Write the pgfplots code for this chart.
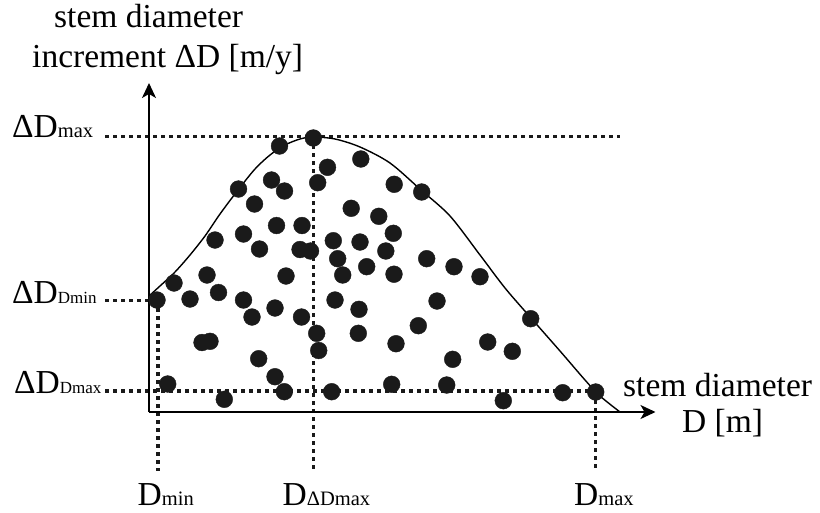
\documentclass[border=0pt]{standalone}
\usepackage{pgfplots}
\pgfplotsset{compat=1.18}
\usepackage{fontspec}
\setmainfont{Liberation Serif}
\usetikzlibrary{arrows.meta}
\definecolor{dotc}{HTML}{1A1A1A}
\newcommand{\bigf}{\fontsize{33.5bp}{40bp}\selectfont}
\newcommand{\subf}{\fontsize{20.5bp}{24bp}\selectfont}
\newcommand{\subbf}{\fontsize{17bp}{20bp}\selectfont}
\begin{document}
\begin{tikzpicture}
\begin{axis}[
  width=820bp, height=512bp, scale only axis,
  xmin=0, xmax=820, ymin=0, ymax=512, y dir=reverse,
  hide axis, clip=false,
]
% dotted guide lines
\addplot[dotc, line width=3.3bp, dash pattern=on 4bp off 4bp] coordinates {(105,136.5) (620,136.5)};
\addplot[dotc, line width=3.3bp, dash pattern=on 4bp off 4bp] coordinates {(105,300.5) (157,300.5)};
\addplot[dotc, line width=3.3bp, dash pattern=on 4bp off 4bp] coordinates {(105,391) (596,391)};
\addplot[dotc, line width=3.3bp, dash pattern=on 4bp off 4bp] coordinates {(158,300) (158,471)};
\addplot[dotc, line width=3.3bp, dash pattern=on 4bp off 4bp] coordinates {(313.5,137) (313.5,471)};
\addplot[dotc, line width=3.3bp, dash pattern=on 4bp off 4bp] coordinates {(595.7,392) (595.7,471)};
% axes
\addplot[black, line width=1.5bp, -{Stealth[length=15bp,width=14bp,inset=4bp]}] coordinates {(149,412) (655.5,412)};
\addplot[black, line width=1.5bp, -{Stealth[length=15bp,width=14bp,inset=4bp]}] coordinates {(149,412) (149,83)};
% envelope curve
\addplot[black, line width=1.4bp, smooth, tension=0.5] coordinates {
(149,296) (160,286) (175,272) (190,255) (205,236) (220,214) (238,190)
(255,169) (270,155) (285,145) (300,139) (313,137) (335,139) (360,147)
(390,163) (421,190) (450,216) (480,255) (505,288) (531,318) (560,351)
(585,380) (600,396) (620,412)};
% data points
\addplot[only marks, mark=*, mark size=8.4bp, color=dotc, mark options={fill=dotc, draw=dotc}] coordinates {
(157,300) (174,283) (190,299) (207,275) (218.5,292.5) (215,240) (238.5,189)
(243.5,234) (243.5,300) (252,317) (254.5,204) (259.5,249) (271.5,180)
(275,308) (276.5,225.5) (279.5,146) (284.5,191) (286,276) (300,249.5)
(302,225.5) (301.5,317) (310.5,251) (313.3,138) (316.7,333.3) (317.7,182.7)
(318.7,350.5) (327.5,167.3) (333.3,240.7) (335,300) (337.7,258.7) (342.7,275)
(351.2,208.3) (359,309.3) (360,242) (360.8,159) (358.3,333.3) (366.7,266.7)
(378.8,216.3) (385.8,251) (393.3,233.3) (394.2,184.3) (394,274.2) (396,343.7)
(418.3,325.7) (421.7,192) (426.7,258.7) (437,301) (452.7,359.3) (454,266.7)
(480,276.7) (487.7,342) (512.3,351.3) (530.7,318.7) (202,342.5) (210,341.3)
(258.7,358.7) (275,376.7) (284.3,391.7) (224.3,399.3) (167.7,384) (331.7,391.7)
(391.7,384.3) (446.7,385) (503.3,400.7) (562.7,392.7) (595.7,392)};
% texts
\node[anchor=base west, inner sep=0pt] at (axis cs:54,28) {\bigf stem diameter};
\node[anchor=base west, inner sep=0pt] at (axis cs:32,68) {\bigf increment ΔD [m/y]};
\node[anchor=base west, inner sep=0pt] at (axis cs:12,137) {\bigf ΔD{\subf max}};
\node[anchor=base west, inner sep=0pt] at (axis cs:12,303) {\bigf ΔD{\subbf Dmin}};
\node[anchor=base west, inner sep=0pt] at (axis cs:14,393) {\bigf ΔD{\subbf Dmax}};
\node[anchor=base west, inner sep=0pt] at (axis cs:623,396) {\bigf stem diameter};
\node[anchor=base west, inner sep=0pt] at (axis cs:682,432) {\bigf D [m]};
\node[anchor=base west, inner sep=0pt] at (axis cs:137.5,505) {\bigf D{\subf min}};
\node[anchor=base west, inner sep=0pt] at (axis cs:282.5,505) {\bigf D{\subf ΔDmax}};
\node[anchor=base west, inner sep=0pt] at (axis cs:574,505) {\bigf D{\subf max}};
\end{axis}
\pgfresetboundingbox
\path (current axis.south west) rectangle (current axis.north east);
\end{tikzpicture}
\end{document}
